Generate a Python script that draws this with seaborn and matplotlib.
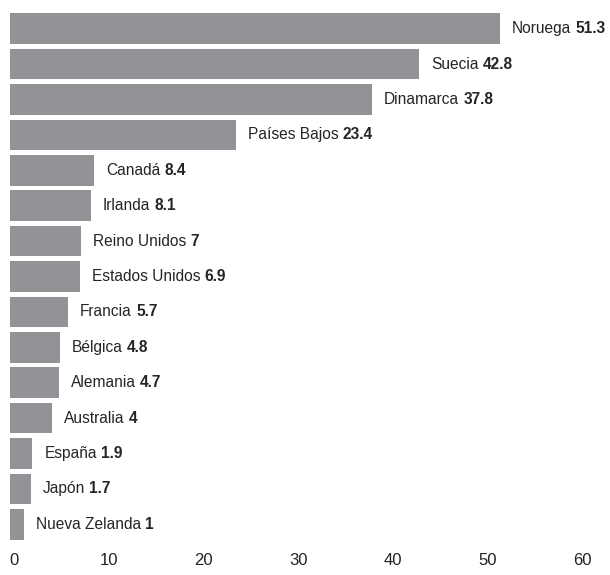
import matplotlib
matplotlib.use("Agg")
import matplotlib.pyplot as plt
import seaborn as sns
import pandas as pd

countries = ["Noruega", "Suecia", "Dinamarca", "Países Bajos", "Canadá", "Irlanda",
             "Reino Unidos", "Estados Unidos", "Francia", "Bélgica", "Alemania",
             "Australia", "España", "Japón", "Nueva Zelanda"]
values = [51.3, 42.8, 37.8, 23.4, 8.4, 8.1, 7, 6.9, 5.7, 4.8, 4.7, 4, 1.9, 1.7, 1]
value_labels = ["51.3", "42.8", "37.8", "23.4", "8.4", "8.1", "7", "6.9", "5.7", "4.8",
                "4.7", "4", "1.9", "1.7", "1"]
x_ticks = [0, 10, 20, 30, 40, 50, 60]

sns.set_theme(style="white")
plt.rcParams["font.family"] = ["Liberation Sans", "DejaVu Sans"]

df = pd.DataFrame({"country": countries, "value": values})

fig = plt.figure(figsize=(6.1, 5.75), dpi=100)
ax = fig.add_axes([14.5 / 610, 0.0574, 567.6 / 610, 0.9809 - 0.0574])
sns.barplot(data=df, x="value", y="country", color="#929396", width=0.86,
            saturation=1, ax=ax, orient="h", linewidth=0)

# bars start slightly left of the zero line, as in the reference
lead = 0.476
for p in ax.patches:
    p.set_x(p.get_x() - lead)
    p.set_width(p.get_width() + lead)
    p.set_clip_on(False)

ax.set_xlim(0, 60)
ax.set_ylim(14.5, -0.5)
ax.set_xticks(x_ticks)
ax.set_xticklabels([str(t) for t in x_ticks], fontsize=12, color="#222222")
ax.tick_params(axis="x", length=0, pad=8)
ax.set_yticks([])
ax.set_xlabel("")
ax.set_ylabel("")
for s in ax.spines.values():
    s.set_visible(False)

for i, (c, v, lab) in enumerate(zip(countries, values, value_labels)):
    t = ax.annotate(c, xy=(v, i), xytext=(8.5, 0), textcoords="offset points",
                    ha="left", va="center", fontsize=11.2, color="#252525",
                    annotation_clip=False)
    ax.annotate(lab, xy=(1, 0), xycoords=t, xytext=(3, 0), textcoords="offset points",
                ha="left", va="bottom", fontsize=11.2, color="#252525",
                fontweight="bold", annotation_clip=False)

fig.savefig("out.png", dpi=100)
